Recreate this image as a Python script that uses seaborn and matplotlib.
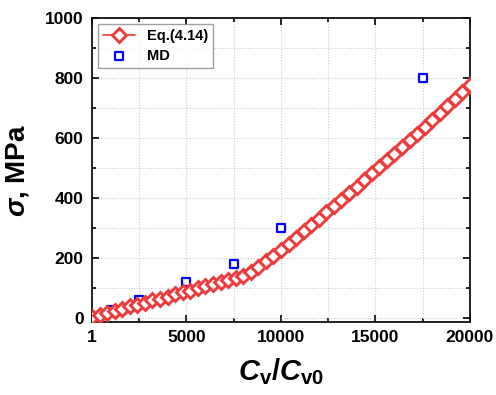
import matplotlib
matplotlib.use("Agg")
import matplotlib.pyplot as plt
import seaborn as sns
import pandas as pd
from matplotlib.ticker import MultipleLocator, FixedLocator

# ---- data ----
eq_x = [1, 400, 800, 1200, 1600, 2000, 2400, 2800, 3200, 3600, 4000, 4400, 4800,
        5200, 5600, 6000, 6400, 6800, 7200, 7600, 8000, 8400, 8800, 9200, 9600,
        10000, 10400, 10800, 11200, 11600, 12000, 12400, 12800, 13200, 13600,
        14000, 14400, 14800, 15200, 15600, 16000, 16400, 16800, 17200, 17600,
        18000, 18400, 18800, 19200, 19600, 20000]
eq_y = [3, 10, 16, 23, 30, 37, 43, 50, 57, 63, 70, 77, 84, 90, 97, 104, 111,
        117, 124, 131, 137, 152, 169, 187, 206, 225, 246, 267, 288, 309, 330,
        351, 372, 394, 415, 437, 459, 481, 503, 525, 547, 569, 591, 614, 636,
        659, 682, 705, 728, 752, 775]
md_x = [1, 1000, 2500, 5000, 7500, 10000, 17500]
md_y = [0, 25, 58, 120, 180, 300, 800]
x_ticks = [1, 5000, 10000, 15000, 20000]
x_tick_labels = ["1", "5000", "10000", "15000", "20000"]
y_ticks = [0, 200, 400, 600, 800, 1000]

sns.set_style("ticks")
plt.rcParams['font.family'] = ['Liberation Sans', 'DejaVu Sans']
plt.rcParams['font.weight'] = 'bold'
plt.rcParams['mathtext.fontset'] = 'custom'
plt.rcParams['mathtext.it'] = 'Liberation Sans:italic:bold'
plt.rcParams['mathtext.rm'] = 'Liberation Sans:bold'
plt.rcParams['mathtext.bf'] = 'Liberation Sans:bold'
for k in ['text.color', 'axes.labelcolor', 'xtick.color', 'ytick.color']:
    plt.rcParams[k] = 'black'

fig = plt.figure(figsize=(4.96, 3.95), dpi=100)
ax = fig.add_axes([92/496, 1-322/395, (470-92)/496, (322-18)/395])

red = "#ec3b3b"
blue = "#0000ff"
df_eq = pd.DataFrame({"x": eq_x, "y": eq_y})
df_md = pd.DataFrame({"x": md_x, "y": md_y})

sns.lineplot(data=df_eq, x="x", y="y", ax=ax, color=red, lw=1.2,
             marker="D", markersize=7, markerfacecolor="white",
             markeredgecolor=red, markeredgewidth=2.1, label="Eq.(4.14)",
             zorder=4)
sns.scatterplot(data=df_md, x="x", y="y", ax=ax, marker="s", s=30,
                facecolor="white", edgecolor=blue, linewidth=1.6,
                label="MD", zorder=3)

ax.set_xlim(1, 20000)
ax.set_ylim(-15, 1000)
ax.xaxis.set_major_locator(FixedLocator(x_ticks))
ax.set_xticklabels(x_tick_labels)
ax.xaxis.set_minor_locator(MultipleLocator(2500))
ax.yaxis.set_major_locator(FixedLocator(y_ticks))
ax.yaxis.set_minor_locator(MultipleLocator(100))

ax.grid(True, which="both", color="#cccccc", linestyle=(0, (1, 1.5)), lw=0.8)
ax.set_axisbelow(True)

ax.tick_params(which="both", direction="in", top=True, right=True,
               width=1.2, labelsize=12.5, pad=6, colors="black")
ax.tick_params(which="major", length=5)
ax.tick_params(which="minor", length=3)
for lab in ax.get_xticklabels() + ax.get_yticklabels():
    lab.set_fontweight("bold")
for sp in ax.spines.values():
    sp.set_linewidth(1.3)
    sp.set_color("#111111")

ax.set_xlabel(r"$C_{\mathrm{v}}/C_{\mathrm{v0}}$", fontsize=21, labelpad=8)
ax.set_ylabel(r"$\sigma$, MPa", fontsize=20, fontweight="bold", labelpad=10)

leg = ax.legend(loc="upper left", fontsize=10.5, frameon=True, fancybox=False,
                edgecolor="#888888", borderpad=0.35, handlelength=2.2,
                labelspacing=0.4, bbox_to_anchor=(0.0, 1.0),
                borderaxespad=0.4)
leg.get_frame().set_linewidth(1.0)
for t in leg.get_texts():
    t.set_fontweight("bold")

fig.savefig("out.png", dpi=100)
